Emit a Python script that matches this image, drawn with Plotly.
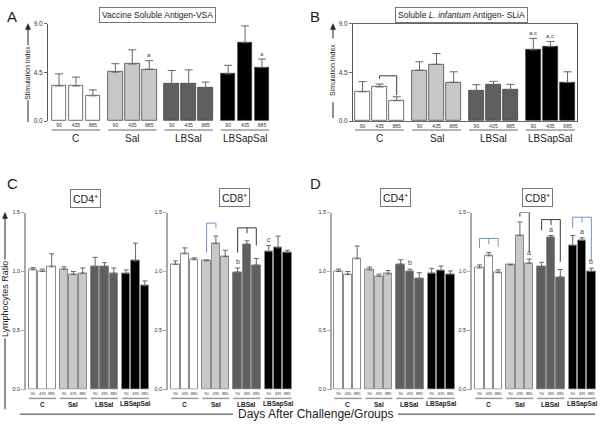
import plotly.graph_objects as go

# ---------------- data ----------------
groups = ["C", "Sal", "LBSal", "LBSapSal"]
days = ["90", "435", "885"]

# A: Stimulation index, Vaccine Soluble Antigen (mean and upper SEM)
vsa_mean = [[3.24, 3.24, 2.33], [4.52, 5.27, 4.79], [3.42, 3.45, 3.06], [4.36, 7.24, 4.94]]
vsa_sem = [[1.12, 0.82, 0.55], [0.78, 1.31, 0.79], [1.25, 1.28, 0.54], [0.79, 1.55, 0.79]]
# B: Stimulation index, Soluble L. infantum Antigen
slia_mean = [[2.70, 3.15, 1.88], [4.70, 5.24, 3.58], [2.82, 3.36, 2.91], [6.58, 6.88, 3.55]]
slia_sem = [[0.94, 0.27, 0.36], [0.78, 1.00, 0.97], [0.54, 0.31, 0.48], [1.06, 0.48, 1.00]]
# C: lymphocyte ratio
c_cd4_mean = [[1.014, 1.000, 1.040], [1.020, 0.975, 0.985], [1.040, 1.040, 0.985], [0.985, 1.090, 0.880]]
c_cd4_sem = [[0.019, 0.020, 0.110], [0.020, 0.025, 0.045], [0.080, 0.035, 0.045], [0.029, 0.150, 0.040]]
c_cd8_mean = [[1.060, 1.150, 1.100], [1.090, 1.237, 1.126], [0.995, 1.230, 1.055], [1.170, 1.200, 1.160]]
c_cd8_sem = [[0.030, 0.050, 0.016], [0.007, 0.063, 0.054], [0.035, 0.030, 0.055], [0.050, 0.100, 0.020]]
# D: lymphocyte ratio
d_cd4_mean = [[1.000, 0.973, 1.108], [1.014, 0.960, 0.980], [1.062, 1.000, 0.940], [0.986, 1.008, 0.978]]
d_cd4_sem = [[0.020, 0.027, 0.108], [0.024, 0.018, 0.028], [0.038, 0.020, 0.050], [0.041, 0.038, 0.027]]
d_cd8_mean = [[1.030, 1.133, 0.990], [1.056, 1.305, 1.070], [1.042, 1.290, 0.953], [1.222, 1.264, 1.000]]
d_cd8_sem = [[0.026, 0.027, 0.024], [0.004, 0.115, 0.036], [0.036, 0.015, 0.064], [0.083, 0.022, 0.028]]

# significance letters: (panel index, group, day, text)
letters = [(0, 1, 2, "a"), (0, 3, 2, "a"), (1, 3, 0, "a,c"), (1, 3, 1, "a,c"),
           (3, 2, 0, "b"), (3, 3, 0, "c"), (4, 2, 1, "b"),
           (5, 1, 2, "a"), (5, 2, 1, "a"), (5, 3, 1, "a"), (5, 3, 2, "b")]

# ---------------- layout settings ----------------
W, H = 600, 425
FONT = "Liberation Sans, Arial, Helvetica, sans-serif"
BLUE = "#7094c8"
DARK = "#3a3a3a"
fills = ["#ffffff", "#c8c8c8", "#5f5f5f", "#000000"]
GSTEP = 3.33


def px(x):
    return x / W


def py(y):
    return 1 - y / H


def pos(g, j):
    return g * GSTEP + j


panels = [
    dict(mean=vsa_mean, sem=vsa_sem, dom=(48, 283), first=59, ppu=16.93, yb=119, yt=20,
         ymax=9.0, tv=[0, 4.5, 9.0], top=True, box=False),
    dict(mean=slia_mean, sem=slia_sem, dom=(353, 577), first=362.5, ppu=17.1, yb=119, yt=20,
         ymax=9.0, tv=[0, 4.5, 9.0], top=True, box=True),
    dict(mean=c_cd4_mean, sem=c_cd4_sem, dom=(26, 150), first=33, ppu=9.33, yb=392, yt=212,
         ymax=1.5, tv=[0, 0.5, 1.0, 1.5], top=False, box=False),
    dict(mean=c_cd8_mean, sem=c_cd8_sem, dom=(168, 292), first=175.5, ppu=9.33, yb=392, yt=212,
         ymax=1.5, tv=[0, 0.5, 1.0, 1.5], top=False, box=False),
    dict(mean=d_cd4_mean, sem=d_cd4_sem, dom=(332, 456), first=338.5, ppu=9.33, yb=392, yt=212,
         ymax=1.5, tv=[0, 0.5, 1.0, 1.5], top=False, box=False),
    dict(mean=d_cd8_mean, sem=d_cd8_sem, dom=(472, 596), first=479.5, ppu=9.33, yb=392, yt=212,
         ymax=1.5, tv=[0, 0.5, 1.0, 1.5], top=False, box=False),
]

# brackets: (panel, group, days, level, colour, per-leg max drop)
brackets = [
    (1, 0, [1, 2], 4.18, DARK, [0.28, None]),
    (3, 1, [0, 1], 1.41, BLUE, [None, None]),
    (3, 2, [0, 1, 2], 1.37, DARK, [0.21, 0.045, 0.15]),
    (5, 0, [0, 1, 2], 1.28, BLUE, [0.08, 0.05, 0.07]),
    (5, 1, [1, 2], 1.50, DARK, [None, None]),
    (5, 2, [0, 1, 2], 1.44, DARK, [0.09, 0.045, None]),
    (5, 3, [0, 1, 2], 1.46, BLUE, [None, 0.045, None]),
]

fig = go.Figure()
layout = dict(width=W, height=H, margin=dict(l=0, r=0, t=0, b=0, pad=0), autosize=False,
              paper_bgcolor="white", plot_bgcolor="white", showlegend=False,
              font=dict(family=FONT, color="#222"), bargap=0, hovermode=False)
annotations = []
shapes = []


def note(**kw):
    kw.setdefault("xanchor", "center")
    kw.setdefault("yanchor", "middle")
    kw.setdefault("showarrow", False)
    annotations.append(kw)


for k, p in enumerate(panels):
    n = k + 1
    xa = "x" if n == 1 else f"x{n}"
    ya = "y" if n == 1 else f"y{n}"
    top = p["top"]
    bw = 0.86 if top else 0.9
    for g in range(4):
        xs = [pos(g, j) for j in range(3)]
        fig.add_trace(go.Bar(
            x=xs, y=p["mean"][g], width=bw, xaxis=xa, yaxis=ya,
            marker=dict(color=fills[g],
                        line=dict(color="#333333" if top else "#8c8c8c", width=0.7 if top else 1)),
            error_y=dict(type="data", symmetric=False, array=p["sem"][g],
                         arrayminus=[0, 0, 0], color="#666666", thickness=1,
                         width=4 if top else 2.5),
            hoverinfo="skip"))
    x0 = (p["dom"][0] - p["first"]) / p["ppu"]
    x1 = (p["dom"][1] - p["first"]) / p["ppu"]
    tickvals = [pos(g, j) for g in range(4) for j in range(3)]
    ticktext = [days[j] for g in range(4) for j in range(3)]
    xkey = "xaxis" if n == 1 else f"xaxis{n}"
    ykey = "yaxis" if n == 1 else f"yaxis{n}"
    layout[xkey] = dict(domain=[px(p["dom"][0]), px(p["dom"][1])], range=[x0, x1],
                        anchor=ya, tickvals=tickvals, ticktext=ticktext, tickangle=0,
                        tickfont=dict(size=5 if top else 4, color="#333"), ticks="",
                        showgrid=False, zeroline=False,
                        showline=p["box"], mirror=p["box"], linecolor="#666", linewidth=1)
    layout[ykey] = dict(domain=[py(p["yb"]), py(p["yt"])], range=[0, p["ymax"]],
                        anchor=xa, tickvals=p["tv"], ticktext=[f"{v:.1f}" for v in p["tv"]],
                        tickfont=dict(size=6.5 if top else 5.5, color="#333"),
                        ticks="outside", ticklen=3, tickcolor="#666" if top else "#aaa",
                        showgrid=False, zeroline=False, showline=True, mirror=p["box"],
                        linecolor="#555" if top else "#aaaaaa", linewidth=1 if top else 1.5)
    # group underline + group names
    yline = 128 if top else 401
    yname = 137 if top else 407
    for g in range(4):
        shapes.append(dict(type="line", xref=xa, yref="paper",
                           x0=pos(g, 0) - bw / 2, x1=pos(g, 2) + bw / 2,
                           y0=py(yline), y1=py(yline), line=dict(color="#9a9a9a", width=1.5)))
        note(x=pos(g, 1), y=py(yname), xref=xa, yref="paper",
             text=(groups[g] if top else f"<b>{groups[g]}</b>"),
             font=dict(size=10 if top else 6.5, color="#222"))

# significance letters
for (k, g, j, t) in letters:
    p = panels[k]
    n = k + 1
    xa = "x" if n == 1 else f"x{n}"
    ya = "y" if n == 1 else f"y{n}"
    off = 0.5 if p["top"] else 0.055
    note(x=pos(g, j), y=p["mean"][g][j] + p["sem"][g][j] + off, xref=xa, yref=ya, text=t,
         font=dict(size=6 if p["top"] else 7, color="#444"))

# brackets
for (k, g, js, level, col, drops) in brackets:
    p = panels[k]
    n = k + 1
    xa = "x" if n == 1 else f"x{n}"
    ya = "y" if n == 1 else f"y{n}"
    pad = 0.15 if p["top"] else 0.065
    mind = 0.2 if p["top"] else 0.035
    shapes.append(dict(type="line", xref=xa, yref=ya, x0=pos(g, js[0]), x1=pos(g, js[-1]),
                       y0=level, y1=level, line=dict(color=col, width=1)))
    for j, md in zip(js, drops):
        end = p["mean"][g][j] + p["sem"][g][j] + pad
        if md is not None:
            end = max(end, level - md)
        end = min(end, level - mind)
        shapes.append(dict(type="line", xref=xa, yref=ya, x0=pos(g, j), x1=pos(g, j),
                           y0=level, y1=end, line=dict(color=col, width=1)))

# panel letters
for t, x, y in [("A", 12, 13), ("B", 315, 13), ("C", 12, 183), ("D", 315, 183)]:
    note(x=px(x), y=py(y), xref="paper", yref="paper", text=t,
         font=dict(size=15, color="#222"))

# boxed titles
boxed = [("Vaccine Soluble Antigen-VSA", 158, 11.5, 8.5),
         ("Soluble <i>L. infantum</i> Antigen- SLiA", 461, 11.5, 8.5),
         ("CD4<sup>+</sup>", 85.5, 198, 10.5), ("CD8<sup>+</sup>", 234, 197, 10.5),
         ("CD4<sup>+</sup>", 395, 196.5, 10.5), ("CD8<sup>+</sup>", 537.5, 197, 10.5)]
for t, x, y, s in boxed:
    note(x=px(x), y=py(y), xref="paper", yref="paper", text=t,
         font=dict(size=s, color="#222"),
         bordercolor="#777", borderwidth=1, borderpad=2, bgcolor="white")

# axis titles with arrows (arrowheads drawn as small filled paths)
ytitles = [("Stimulation Index", 28, 20, 42, 70, 98, 120, 7),
           ("Simulation Index", 333, 20, 35, 67, 100, 116, 7),
           ("Lymphocytes Ratio", 5, 212, 260, 300, 340, 412, 9)]
for t, x, tip, tail, mid, l0, l1, s in ytitles:
    note(x=px(x), y=py(mid), xref="paper", yref="paper", text=t, textangle=-90,
         font=dict(size=s, color="#222"))
    shapes.append(dict(type="line", xref="paper", yref="paper", x0=px(x), x1=px(x),
                       y0=py(tip + 4), y1=py(tail), line=dict(color="#222", width=1)))
    shapes.append(dict(type="path", xref="paper", yref="paper",
                       path=(f"M {px(x)},{py(tip)} L {px(x - 2.5)},{py(tip + 6)} "
                             f"L {px(x + 2.5)},{py(tip + 6)} Z"),
                       fillcolor="#222", line=dict(color="#222", width=0.5)))
    shapes.append(dict(type="line", xref="paper", yref="paper", x0=px(x), x1=px(x),
                       y0=py(l0), y1=py(l1), line=dict(color="#222", width=1)))

note(x=px(316), y=py(417), xref="paper", yref="paper",
     text="Days After Challenge/Groups", font=dict(size=12, color="#222"))
for a, b in [(20, 233), (398, 595)]:
    shapes.append(dict(type="line", xref="paper", yref="paper", x0=px(a), x1=px(b),
                       y0=py(417), y1=py(417), line=dict(color="#333", width=1)))

layout["annotations"] = annotations
layout["shapes"] = shapes
fig.update_layout(**layout)
fig.write_html("out.html", config={"displayModeBar": False},
               post_script="document.body.style.margin='0';document.body.style.overflow='hidden';")
